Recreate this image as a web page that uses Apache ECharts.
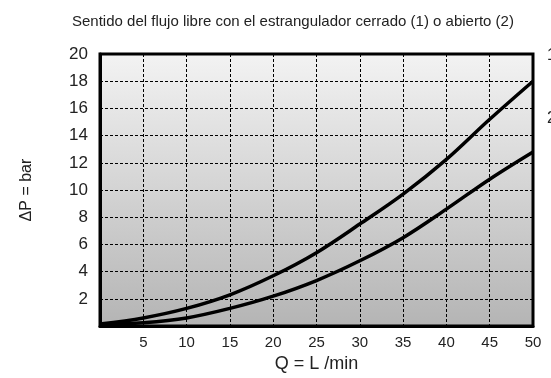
<!DOCTYPE html>
<html>
<head>
<meta charset="utf-8">
<script src="https://cdn.jsdelivr.net/npm/echarts@6/dist/echarts.min.js"></script>
<style>html,body{margin:0;padding:0;background:#fff}#c{width:551px;height:378px}</style>
</head>
<body>
<div id="c"></div>
<script>
var titleText = 'Sentido del flujo libre con el estrangulador cerrado (1) o abierto (2)';
var xName = 'Q = L /min';
var yName = 'ΔP = bar';
var flow = [0, 5, 10, 15, 20, 25, 30, 35, 40, 45, 50];
var curve1 = [0.15, 0.6, 1.3, 2.3, 3.7, 5.4, 7.5, 9.7, 12.25, 15.2, 18];
var curve2 = [0.1, 0.25, 0.6, 1.3, 2.2, 3.35, 4.8, 6.5, 8.6, 10.8, 12.8];
var curveNames = ['1', '2'];

function pairs(xs, ys){ return xs.map(function(x,i){ return [x, ys[i]]; }); }

var chart = echarts.init(document.getElementById('c'), null, {renderer:'canvas'});
var font = 'Liberation Sans, Arial, sans-serif';
chart.setOption({
  animation: false,
  backgroundColor: '#fff',
  title: {
    text: titleText, left: 67, top: 9,
    textStyle: {fontFamily: font, fontSize: 15, fontWeight: 'normal', color: '#222'}
  },
  grid: {
    left: 100, right: 18, top: 54, bottom: 51, show: true,
    borderColor: '#000', borderWidth: 3,
    backgroundColor: new echarts.graphic.LinearGradient(0,0,0,1,[
      {offset:0, color:'#f3f3f3'}, {offset:1, color:'#b4b4b4'}])
  },
  xAxis: {
    type: 'value', min: 0, max: 50, interval: 5,
    name: xName, nameLocation: 'middle', nameGap: 28,
    nameTextStyle: {fontFamily: font, fontSize: 18, color: '#222'},
    axisLine: {show: true, lineStyle: {color: '#000', width: 3}},
    axisTick: {show: false},
    axisLabel: {fontFamily: font, fontSize: 15, color: '#222', margin: 9,
      formatter: function(v){ return (v === 0) ? '' : String(v); }},
    splitLine: {show: true, lineStyle: {color: '#000', width: 1, type: [3,2]}}
  },
  yAxis: {
    type: 'value', min: 0, max: 20, interval: 2,
    name: yName, nameLocation: 'middle', nameGap: 65, nameRotate: 90,
    nameTextStyle: {fontFamily: font, fontSize: 16, color: '#222'},
    axisLine: {show: true, lineStyle: {color: '#000', width: 3}},
    axisTick: {show: false},
    axisLabel: {fontFamily: font, fontSize: 17, color: '#222', margin: 12,
      padding: [0, 0, 5, 0],
      formatter: function(v){ return (v === 0) ? '' : String(v); }},
    splitLine: {show: true, lineStyle: {color: '#000', width: 1, type: [3,2]}}
  },
  series: [
    {name: curveNames[0], type: 'line', data: pairs(flow, curve1), smooth: 0.35,
     showSymbol: false, lineStyle: {color: '#000', width: 3.5},
     endLabel: {show: true, formatter: curveNames[0], offset: [6, -26],
       fontFamily: font, fontSize: 16, color: '#222'}},
    {name: curveNames[1], type: 'line', data: pairs(flow, curve2), smooth: 0.35,
     showSymbol: false, lineStyle: {color: '#000', width: 3.5},
     endLabel: {show: true, formatter: curveNames[1], offset: [6, -33],
       fontFamily: font, fontSize: 16, color: '#222'}}
  ]
});
</script>
</body>
</html>
